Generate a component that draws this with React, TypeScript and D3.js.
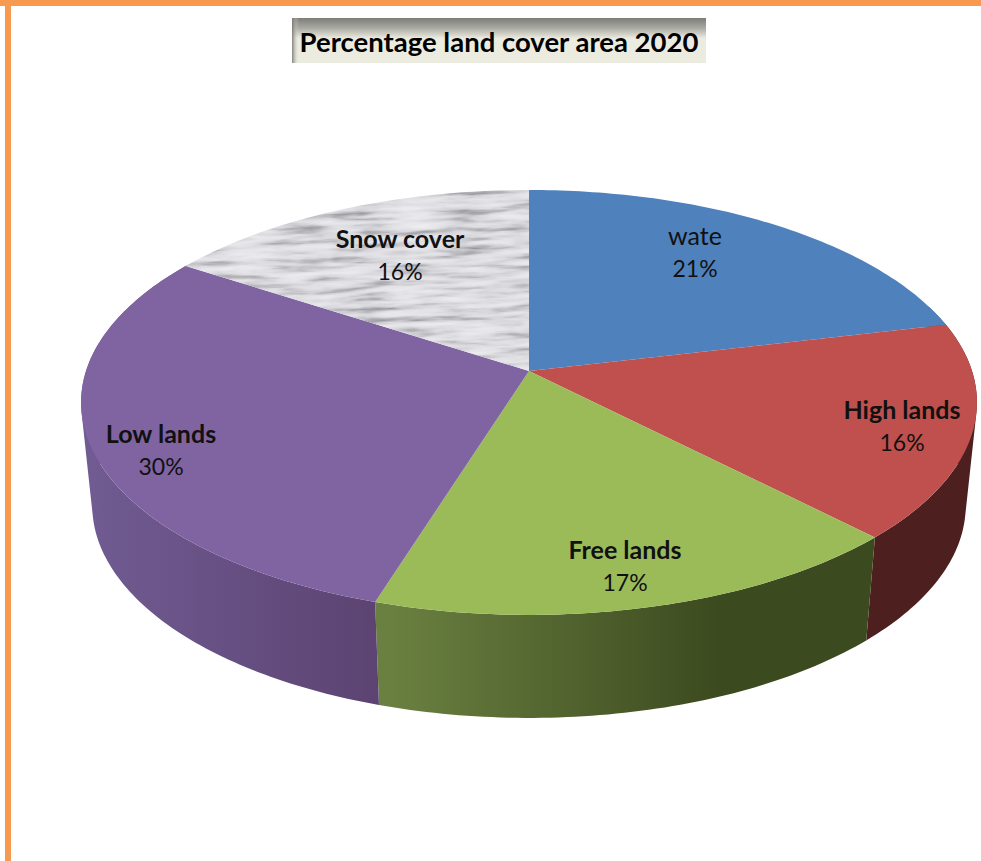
import * as d3 from "d3";

// Land cover shares for 2020, clockwise from twelve o'clock
const categories = ["wate", "High lands", "Free lands", "Low lands", "Snow cover"];
const shares = [21, 16, 17, 30, 16];
const boldLabel = [false, true, true, true, true];
const topColors = ["#4f81bd", "#c0504d", "#9bbb59", "#8064a2", "url(#marble)"];
const wallStops = [
  ["#3a5a85", "#3a5a85"],
  ["#50221f", "#4d201f"],
  ["#6a8040", "#3c4a1f"],
  ["#705b92", "#5b4270"],
  ["#999999", "#999999"],
];
const labelAt = [
  [695, 237],
  [902, 411],
  [625, 551],
  [161, 435],
  [400, 240],
];

const W = 981;
const H = 861;
const FONT = "Lato, 'Noto Sans', sans-serif";

// Perspective projection of the tilted disc
const CX = 529;
const CY = 371;
const A = 443;
const B = 207.8;
const K = 0.148;
const SKEW = (3 * Math.PI) / 180;
const WALL_SX = 0.975;
const WALL_SY = 1;
const WALL_CY = 474;

function top(theta: number): [number, number] {
  // the view is slightly skewed, which drags the front of the disc clockwise
  const t = theta + (SKEW * (1 - Math.cos(theta))) / 2;
  const u = Math.sin(t);
  const v = -Math.cos(t);
  const w = 1 - K * v;
  return [CX + (A * u) / w, CY + (B * v) / w];
}

function bottom(theta: number): [number, number] {
  const [x, y] = top(theta);
  return [CX + (x - CX) * WALL_SX, WALL_CY + (y - CY) * WALL_SY];
}

const line = d3.line();

function arcPoints(a0: number, a1: number, f: (t: number) => [number, number]) {
  const n = Math.max(2, Math.ceil(Math.abs(a1 - a0) * 60));
  return d3.range(n + 1).map((i) => f(a0 + ((a1 - a0) * i) / n));
}

// One wall as a run of quads with the same winding, so the sweep past the
// disc's left and right extremes stays filled
function wallPath(a0: number, a1: number) {
  const t = arcPoints(a0, a1, top);
  const b = arcPoints(a0, a1, bottom);
  return d3
    .range(t.length - 1)
    .map((i) => {
      const quad: [number, number][] = [t[i], t[i + 1], b[i + 1], b[i]];
      if (d3.polygonArea(quad) < 0) quad.reverse();
      return line(quad) + "Z";
    })
    .join("");
}

const arcs = d3.pie<number>().sort(null).value((d) => d)(shares);

const VIS0 = (70 * Math.PI) / 180;
const VIS1 = (300 * Math.PI) / 180 + 0.05;

export default function App() {
  return (
    <svg
      width={W}
      height={H}
      viewBox={`0 0 ${W} ${H}`}
      style={{ position: "absolute", left: 0, top: 0, background: "#fff" }}
    >
      <defs>
        <filter id="marbleNoise" x="0" y="0" width="100%" height="100%" colorInterpolationFilters="sRGB">
          <feTurbulence type="fractalNoise" baseFrequency="0.018 0.16" numOctaves={4} seed={11} />
          <feColorMatrix type="matrix" values="1 0 0 0 0  1 0 0 0 0  1 0 0 0 0  0 0 0 0 1" />
          <feComponentTransfer>
            <feFuncR type="table" tableValues="0.5 0.6 0.72 0.83 0.88 0.91 0.93 0.95" />
            <feFuncG type="table" tableValues="0.5 0.6 0.72 0.83 0.88 0.91 0.93 0.95" />
            <feFuncB type="table" tableValues="0.52 0.62 0.74 0.85 0.9 0.925 0.94 0.96" />
          </feComponentTransfer>
          <feGaussianBlur stdDeviation="0.6" />
        </filter>
        <clipPath id="snowClip">
          <path
            d={
              line([
                [CX, CY],
                ...arcPoints(arcs[4].startAngle, arcs[4].endAngle, top),
              ]) + "Z"
            }
          />
        </clipPath>
        <linearGradient id="titleTop" x1="0" y1="0" x2="0" y2="1">
          <stop offset="0" stopColor="#7d7d78" />
          <stop offset="0.22" stopColor="#a9a9a2" />
          <stop offset="0.45" stopColor="#ecebe0" />
        </linearGradient>
        <linearGradient id="titleLeft" x1="0" y1="0" x2="1" y2="0">
          <stop offset="0" stopColor="#77776f" stopOpacity="0.9" />
          <stop offset="1" stopColor="#ecebe0" stopOpacity="0" />
        </linearGradient>
        {arcs.map((_, i) => (
          <linearGradient
            key={i}
            id={`wall${i}`}
            gradientUnits="userSpaceOnUse"
            x1={i === 3 ? 90 : 390}
            x2={i === 3 ? 390 : 720}
            y1={0}
            y2={0}
          >
            <stop offset="0" stopColor={wallStops[i][0]} />
            <stop offset="1" stopColor={wallStops[i][1]} />
          </linearGradient>
        ))}
      </defs>

      {/* page frame */}
      <rect x={0} y={0} width={W} height={6} fill="#f79a50" />
      <rect x={5} y={0} width={6} height={H} fill="#f79a50" />

      {/* title plate */}
      <rect x={292} y={18} width={414} height={45} fill="url(#titleTop)" />
      <rect x={292} y={18} width={7} height={45} fill="url(#titleLeft)" />
      <text
        x={499}
        y={52}
        textAnchor="middle"
        fontFamily={FONT}
        fontWeight={700}
        fontSize={27.5}
        fill="#000"
      >
        Percentage land cover area 2020
      </text>

      {/* side walls, visible along the front of the disc */}
      {arcs.map((a, i) => {
        const s = Math.max(a.startAngle, VIS0);
        const e = Math.min(a.endAngle, VIS1);
        if (e <= s) return null;
        return <path key={i} d={wallPath(s, e)} fill={`url(#wall${i})`} />;
      })}

      {/* top face */}
      {arcs.map((a, i) => {
        const d =
          line([[CX, CY], ...arcPoints(a.startAngle, a.endAngle, top)]) + "Z";
        if (i === 4) {
          return (
            <g key={i} clipPath="url(#snowClip)">
              <rect
                x={160}
                y={160}
                width={400}
                height={240}
                filter="url(#marbleNoise)"
                transform="rotate(-2 360 280)"
              />
            </g>
          );
        }
        return <path key={i} d={d} fill={topColors[i]} />;
      })}

      {/* slice labels */}
      {arcs.map((_, i) => (
        <text
          key={i}
          textAnchor="middle"
          fontFamily={FONT}
          fontSize={23}
          fill="#111"
        >
          <tspan
            x={labelAt[i][0]}
            y={labelAt[i][1] + 8}
            fontSize={25}
            fontWeight={boldLabel[i] ? 700 : 400}
          >
            {categories[i]}
          </tspan>
          <tspan x={labelAt[i][0]} y={labelAt[i][1] + 40}>
            {shares[i]}%
          </tspan>
        </text>
      ))}
    </svg>
  );
}
